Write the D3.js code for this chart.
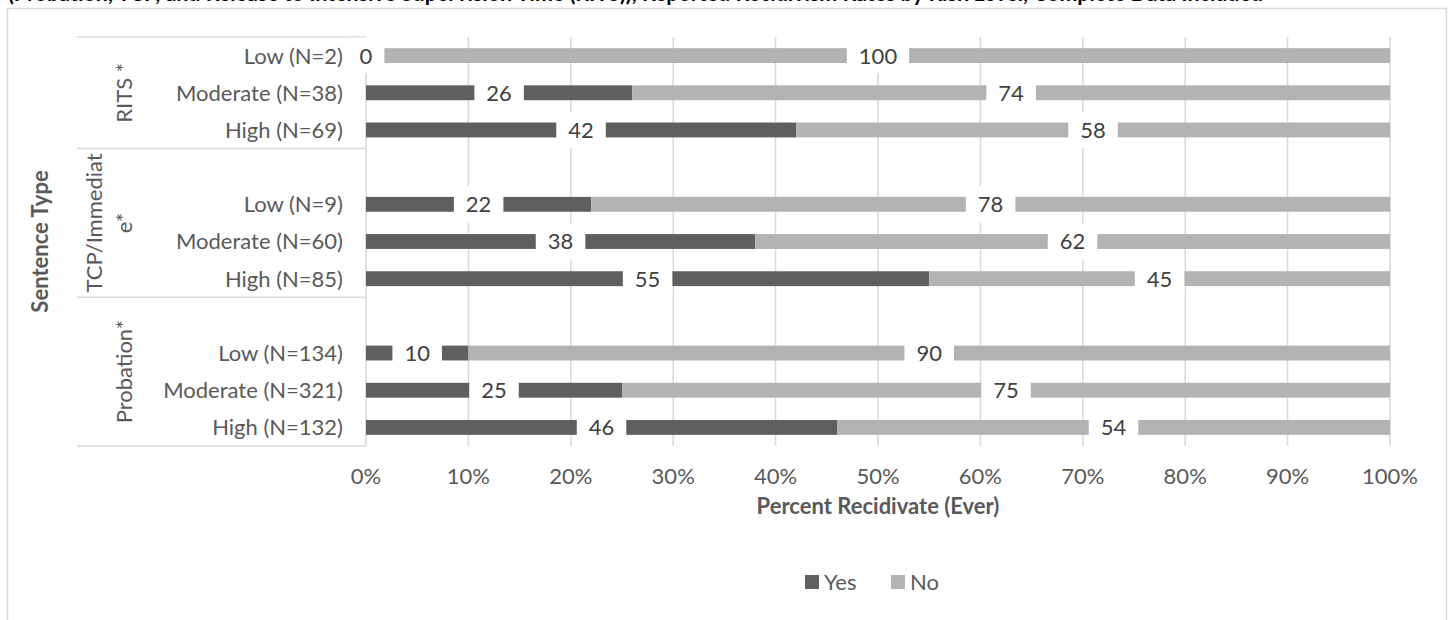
<!DOCTYPE html>
<html>
<head>
<meta charset="utf-8">
<script src="https://cdn.jsdelivr.net/npm/d3@7"></script>
<style>
  html, body { margin: 0; padding: 0; background: #ffffff; }
  svg { display: block; }
  text { font-family: Lato, "Open Sans", sans-serif; }
</style>
</head>
<body>
<svg id="chart" width="1450" height="620"></svg>
<script>
// ---------------- DATA ----------------
const titleText = "(Probation, TCP, and Release to Intensive Supervision Time (RITS)), Reported Recidivism Rates by Risk Level, Complete Data Included";
const categories = ["Low (N=2)", "Moderate (N=38)", "High (N=69)", "",
                    "Low (N=9)", "Moderate (N=60)", "High (N=85)", "",
                    "Low (N=134)", "Moderate (N=321)", "High (N=132)"];
const yesValues = [0, 26, 42, null, 22, 38, 55, null, 10, 25, 46];
const noValues  = [100, 74, 58, null, 78, 62, 45, null, 90, 75, 54];
const groupLabels = [["RITS *"], ["TCP/Immediat", "e*"], ["Probation*"]];
const groupSizes = [3, 4, 4];
const xTickValues = [0, 10, 20, 30, 40, 50, 60, 70, 80, 90, 100];
const xTickLabels = ["0%", "10%", "20%", "30%", "40%", "50%", "60%", "70%", "80%", "90%", "100%"];
const seriesNames = ["Yes", "No"];
const seriesColors = ["#5f5f5f", "#b3b3b3"];
const xAxisTitle = "Percent Recidivate (Ever)";
const yAxisTitle = "Sentence Type";

// ---------------- LAYOUT ----------------
const svg = d3.select("#chart");
const plot = { left: 366, right: 1390, top: 37, bottom: 446 };
const gridColor = "#d9d9d9";
const textColor = "#595959";
const labelColor = "#404040";
const fontSize = 22;

const x = d3.scaleLinear().domain([0, 100]).range([plot.left, plot.right]);
const y = d3.scaleBand().domain(d3.range(categories.length))
  .range([plot.top, plot.bottom]).paddingInner(0.6).paddingOuter(0.3);
const rowStep = y.step();
const rowTop = i => plot.top + i * rowStep;

// chart border
svg.append("rect").attr("x", 7.5).attr("y", 8.5).attr("width", 1439).attr("height", 640)
  .attr("fill", "none").attr("stroke", gridColor).attr("stroke-width", 1.5);

// title (cut off at the top, as in the reference)
svg.append("text").attr("x", 8).attr("y", 1)
  .attr("font-size", 22).attr("font-weight", "bold").attr("fill", "#000")
  .attr("textLength", 1255).attr("lengthAdjust", "spacingAndGlyphs")
  .text(titleText);

// gridlines
svg.append("g").selectAll("line").data(xTickValues.slice(1)).join("line")
  .attr("x1", d => x(d)).attr("x2", d => x(d))
  .attr("y1", plot.top).attr("y2", plot.bottom)
  .attr("stroke", gridColor).attr("stroke-width", 1.5);

// category axis line
svg.append("line").attr("x1", plot.left).attr("x2", plot.left)
  .attr("y1", plot.top).attr("y2", plot.bottom)
  .attr("stroke", gridColor).attr("stroke-width", 1.5);

// group separators
let acc = 0;
const sepIdx = [0];
groupSizes.forEach(s => { acc += s; sepIdx.push(acc); });
svg.append("g").selectAll("line").data(sepIdx).join("line")
  .attr("x1", 77).attr("x2", plot.left)
  .attr("y1", d => rowTop(d)).attr("y2", d => rowTop(d))
  .attr("stroke", gridColor).attr("stroke-width", 1.5);

// group labels (rotated)
const gLab = svg.append("g");
groupLabels.forEach((lines, gi) => {
  const cy = (rowTop(sepIdx[gi]) + rowTop(sepIdx[gi + 1])) / 2;
  const lh = 30;
  const baseX = lines.length === 1 ? 132 : 102;
  const t = gLab.append("text")
    .attr("transform", `translate(${baseX},${cy}) rotate(-90)`)
    .attr("text-anchor", "middle").attr("font-size", fontSize).attr("fill", textColor);
  lines.forEach((ln, li) => {
    t.append("tspan").attr("x", 0).attr("dy", li === 0 ? 0 : lh).text(ln);
  });
});

// category labels
svg.append("g").selectAll("text").data(categories).join("text")
  .attr("x", 343).attr("y", (d, i) => y(i) + y.bandwidth() / 2)
  .attr("dy", "0.36em").attr("text-anchor", "end")
  .attr("font-size", fontSize).attr("fill", textColor)
  .text(d => d);

// bars
const rows = categories.map((c, i) => ({ i, yes: yesValues[i], no: noValues[i] }))
  .filter(r => r.yes !== null);
const barG = svg.append("g");
barG.selectAll("rect.yes").data(rows).join("rect").attr("class", "yes")
  .attr("x", d => x(0)).attr("width", d => x(d.yes) - x(0))
  .attr("y", d => y(d.i)).attr("height", y.bandwidth())
  .attr("fill", seriesColors[0]);
barG.selectAll("rect.no").data(rows).join("rect").attr("class", "no")
  .attr("x", d => x(d.yes)).attr("width", d => x(d.yes + d.no) - x(d.yes))
  .attr("y", d => y(d.i)).attr("height", y.bandwidth())
  .attr("fill", seriesColors[1]);

// data labels with white boxes
const labels = [];
rows.forEach(r => {
  labels.push({ i: r.i, cx: x(r.yes / 2), v: r.yes });
  labels.push({ i: r.i, cx: x(r.yes + r.no / 2), v: r.no });
});
const lg = svg.append("g");
labels.forEach(l => {
  const cy = y(l.i) + y.bandwidth() / 2;
  const t = lg.append("text").attr("x", l.cx).attr("y", cy).attr("dy", "0.36em")
    .attr("text-anchor", "middle").attr("font-size", fontSize).attr("fill", labelColor)
    .text(l.v);
  const w = t.node().getComputedTextLength() + 24;
  lg.insert("rect", () => t.node())
    .attr("x", l.cx - w / 2).attr("y", cy - 18).attr("width", w).attr("height", 36)
    .attr("fill", "#fff");
});

// x tick labels
svg.append("g").selectAll("text").data(xTickValues).join("text")
  .attr("x", d => x(d)).attr("y", 476).attr("dy", "0.36em")
  .attr("text-anchor", "middle").attr("font-size", fontSize).attr("fill", textColor)
  .text((d, i) => xTickLabels[i]);

// axis titles
svg.append("text").attr("x", (plot.left + plot.right) / 2).attr("y", 506).attr("dy", "0.36em")
  .attr("text-anchor", "middle").attr("font-size", fontSize).attr("font-weight", "bold")
  .attr("fill", textColor).text(xAxisTitle);
svg.append("text").attr("transform", `translate(48,${(plot.top + plot.bottom) / 2}) rotate(-90)`)
  .attr("text-anchor", "middle").attr("font-size", fontSize).attr("font-weight", "bold")
  .attr("fill", textColor).text(yAxisTitle);

// legend
const legX = [805, 891];
const leg = svg.append("g");
seriesNames.forEach((s, i) => {
  leg.append("rect").attr("x", legX[i]).attr("y", 575).attr("width", 14).attr("height", 14)
    .attr("fill", seriesColors[i]);
  leg.append("text").attr("x", legX[i] + 19).attr("y", 582).attr("dy", "0.36em")
    .attr("font-size", fontSize).attr("fill", textColor).text(s);
});
</script>
</body>
</html>
